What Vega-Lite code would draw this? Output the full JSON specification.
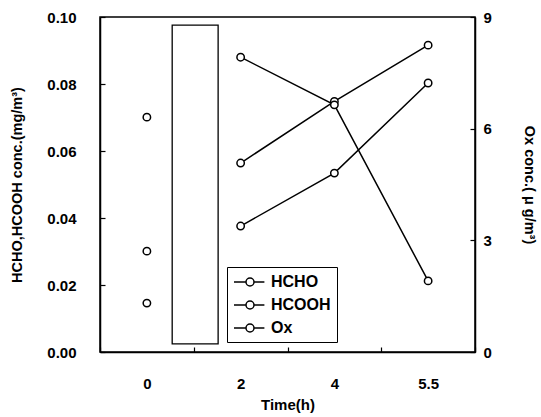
{
  "$schema": "https://vega.github.io/schema/vega-lite/v6.json",
  "width": 375,
  "height": 335,
  "autosize": "none",
  "padding": {"left": 100, "top": 17, "right": 66, "bottom": 65},
  "background": "white",
  "config": {
    "view": {"stroke": "black", "strokeWidth": 1.5},
    "font": "Liberation Sans",
    "axis": {
      "domainColor": "black", "domainWidth": 1.5, "tickColor": "black", "tickWidth": 1.2,
      "tickSize": -5, "grid": false,
      "labelFont": "Liberation Sans", "labelFontWeight": "bold", "labelFontSize": 15, "labelColor": "black",
      "titleFont": "Liberation Sans", "titleFontWeight": "bold", "titleFontSize": 14.5, "titleColor": "black"
    }
  },
  "datasets": {
    "obs": [
      {"series": "HCHO", "t": "0", "v": 0.0301},
      {"series": "HCHO", "t": "2", "v": 0.0564},
      {"series": "HCHO", "t": "4", "v": 0.0748},
      {"series": "HCHO", "t": "5.5", "v": 0.0916},
      {"series": "HCOOH", "t": "0", "v": 0.0146},
      {"series": "HCOOH", "t": "2", "v": 0.0376},
      {"series": "HCOOH", "t": "4", "v": 0.0534},
      {"series": "HCOOH", "t": "5.5", "v": 0.0803},
      {"series": "Ox", "t": "0", "v": 6.31},
      {"series": "Ox", "t": "2", "v": 7.92},
      {"series": "Ox", "t": "4", "v": 6.64},
      {"series": "Ox", "t": "5.5", "v": 1.91}
    ],
    "gap": [{"start": "0", "end": "2", "low": 0.0024, "high": 0.0976}]
  },
  "layer": [
    {
      "layer": [
        {
          "data": {"name": "gap"},
          "mark": {"type": "rect", "fill": "white", "stroke": "black", "strokeWidth": 1.3},
          "encoding": {
            "x": {"field": "start", "type": "ordinal", "sort": ["0", "2", "4", "5.5"], "bandPosition": 0.77},
            "x2": {"field": "end", "bandPosition": 0.26},
            "y": {"field": "low", "type": "quantitative"},
            "y2": {"field": "high"}
          }
        },
        {
          "data": {"name": "obs"},
          "transform": [{"filter": "datum.series !== 'Ox' && datum.t !== '0'"}],
          "mark": {"type": "line", "strokeWidth": 1.5},
          "encoding": {
            "x": {"field": "t", "type": "ordinal", "sort": ["0", "2", "4", "5.5"]},
            "y": {"field": "v", "type": "quantitative"},
            "stroke": {"field": "series", "type": "nominal"}
          }
        },
        {
          "data": {"name": "obs"},
          "transform": [{"filter": "datum.series !== 'Ox'"}],
          "mark": {"type": "point", "filled": false, "fill": "white", "fillOpacity": 1, "opacity": 1, "strokeWidth": 1.5, "size": 55},
          "encoding": {
            "x": {"field": "t", "type": "ordinal", "sort": ["0", "2", "4", "5.5"]},
            "y": {"field": "v", "type": "quantitative"},
            "stroke": {"field": "series", "type": "nominal"}
          }
        }
      ],
      "encoding": {
        "y": {
          "scale": {"domain": [0, 0.1], "nice": false, "zero": true},
          "axis": {"values": [0, 0.02, 0.04, 0.06, 0.08, 0.1], "format": ".2f", "labelPadding": 29,
                   "title": "HCHO,HCOOH conc.(mg/m³)", "titlePadding": 22}
        }
      }
    },
    {
      "data": {"name": "obs"},
      "transform": [{"filter": "datum.series === 'Ox'"}],
      "layer": [
        {
          "transform": [{"filter": "datum.t !== '0'"}],
          "mark": {"type": "line", "strokeWidth": 1.5},
          "encoding": {
            "x": {"field": "t", "type": "ordinal", "sort": ["0", "2", "4", "5.5"]},
            "y": {"field": "v", "type": "quantitative"},
            "stroke": {"field": "series", "type": "nominal"}
          }
        },
        {
          "mark": {"type": "point", "filled": false, "fill": "white", "fillOpacity": 1, "opacity": 1, "strokeWidth": 1.5, "size": 55},
          "encoding": {
            "x": {"field": "t", "type": "ordinal", "sort": ["0", "2", "4", "5.5"]},
            "y": {"field": "v", "type": "quantitative"},
            "stroke": {"field": "series", "type": "nominal"}
          }
        }
      ],
      "encoding": {
        "y": {
          "scale": {"domain": [0, 9], "nice": false},
          "axis": {"orient": "right", "values": [0, 3, 6, 9], "labelPadding": 13,
                   "title": "Ox conc.( μ g/m³)", "titlePadding": 30}
        }
      }
    }
  ],
  "encoding": {
    "x": {
      "scale": {"type": "band", "paddingInner": 0, "paddingOuter": 0},
      "axis": {"title": "Time(h)", "labelAngle": 0, "tickBand": "extent", "labelPadding": 29, "titlePadding": 6, "titleFontSize": 15}
    },
    "stroke": {
      "scale": {"domain": ["HCHO", "HCOOH", "Ox"], "range": ["black", "black", "black"]},
      "legend": {
        "title": null, "orient": "none", "legendX": 127, "legendY": 250,
        "symbolType": "M-1,0L0.5,0M1.5,0L2.8,0M1.5,0A0.5,0.5,0,1,1,0.5,0A0.5,0.5,0,1,1,1.5,0Z",
        "symbolSize": 256, "symbolFillColor": "white", "symbolStrokeColor": "black", "symbolStrokeWidth": 1.5,
        "labelFont": "Liberation Sans", "labelFontWeight": "bold", "labelFontSize": 16, "labelColor": "black",
        "labelOffset": 20, "rowPadding": 6, "padding": 6, "strokeColor": "black", "fillColor": "white"
      }
    }
  },
  "resolve": {"scale": {"y": "independent"}}
}
